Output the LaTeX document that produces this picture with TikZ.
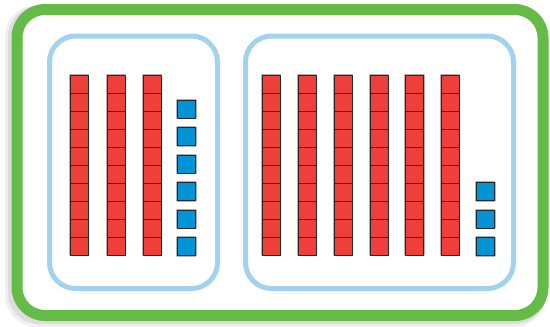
\documentclass[tikz,border=0pt]{standalone}
\usepackage{tikz}
\definecolor{framegreen}{HTML}{65BB47}
\definecolor{groupblue}{HTML}{A3D2F0}
\definecolor{rodred}{HTML}{EE3F3A}
\definecolor{unitblue}{HTML}{0093D6}

\begin{document}
\begin{tikzpicture}[x=1pt, y=-1pt, line join=round]
\tikzset{
  cube/.style={draw=black!85, line width=0.8pt},
  halo/.style={draw=black!30, line width=2.4pt},
  group/.style={draw=groupblue, line width=5pt, rounded corners=26pt}
}
\useasboundingbox (0,0) rectangle (550,327);

% Shadow and frame
\fill[black, opacity=0.06, rounded corners=32pt] (5,5) rectangle (546,327);
\fill[black, opacity=0.08, rounded corners=31pt] (8,6) rectangle (546,324);
\draw[framegreen, line width=11pt, rounded corners=28pt, fill=white] (17,9.5) rectangle (543,315.5);

% Groups
\draw[group] (49.5,36) rectangle (217.5,288.5);
\draw[group] (245.5,36) rectangle (513.5,288.5);

% Left group: 3 tens
\foreach \x in {70,107,143} {
    \draw[halo] (\x,75) rectangle ++(18,180);
    \foreach \k in {0,...,9}
        \draw[cube, fill=rodred] (\x,75+\k*18) rectangle ++(18,18);
}
% Left group: 6 ones
\foreach \k in {0,...,5} {
    \draw[halo] (177,100+\k*27.5) rectangle ++(18.5,18);
    \draw[cube, fill=unitblue] (177,100+\k*27.5) rectangle ++(18.5,18);
}

% Right group: 6 tens
\foreach \x in {262,298,334,370,405.5,441} {
    \draw[halo] (\x,75) rectangle ++(18,180);
    \foreach \k in {0,...,9}
        \draw[cube, fill=rodred] (\x,75+\k*18) rectangle ++(18,18);
}
% Right group: 3 ones
\foreach \k in {0,...,2} {
    \draw[halo] (476,182.5+\k*27.5) rectangle ++(18.5,18);
    \draw[cube, fill=unitblue] (476,182.5+\k*27.5) rectangle ++(18.5,18);
}
\end{tikzpicture}
\end{document}
